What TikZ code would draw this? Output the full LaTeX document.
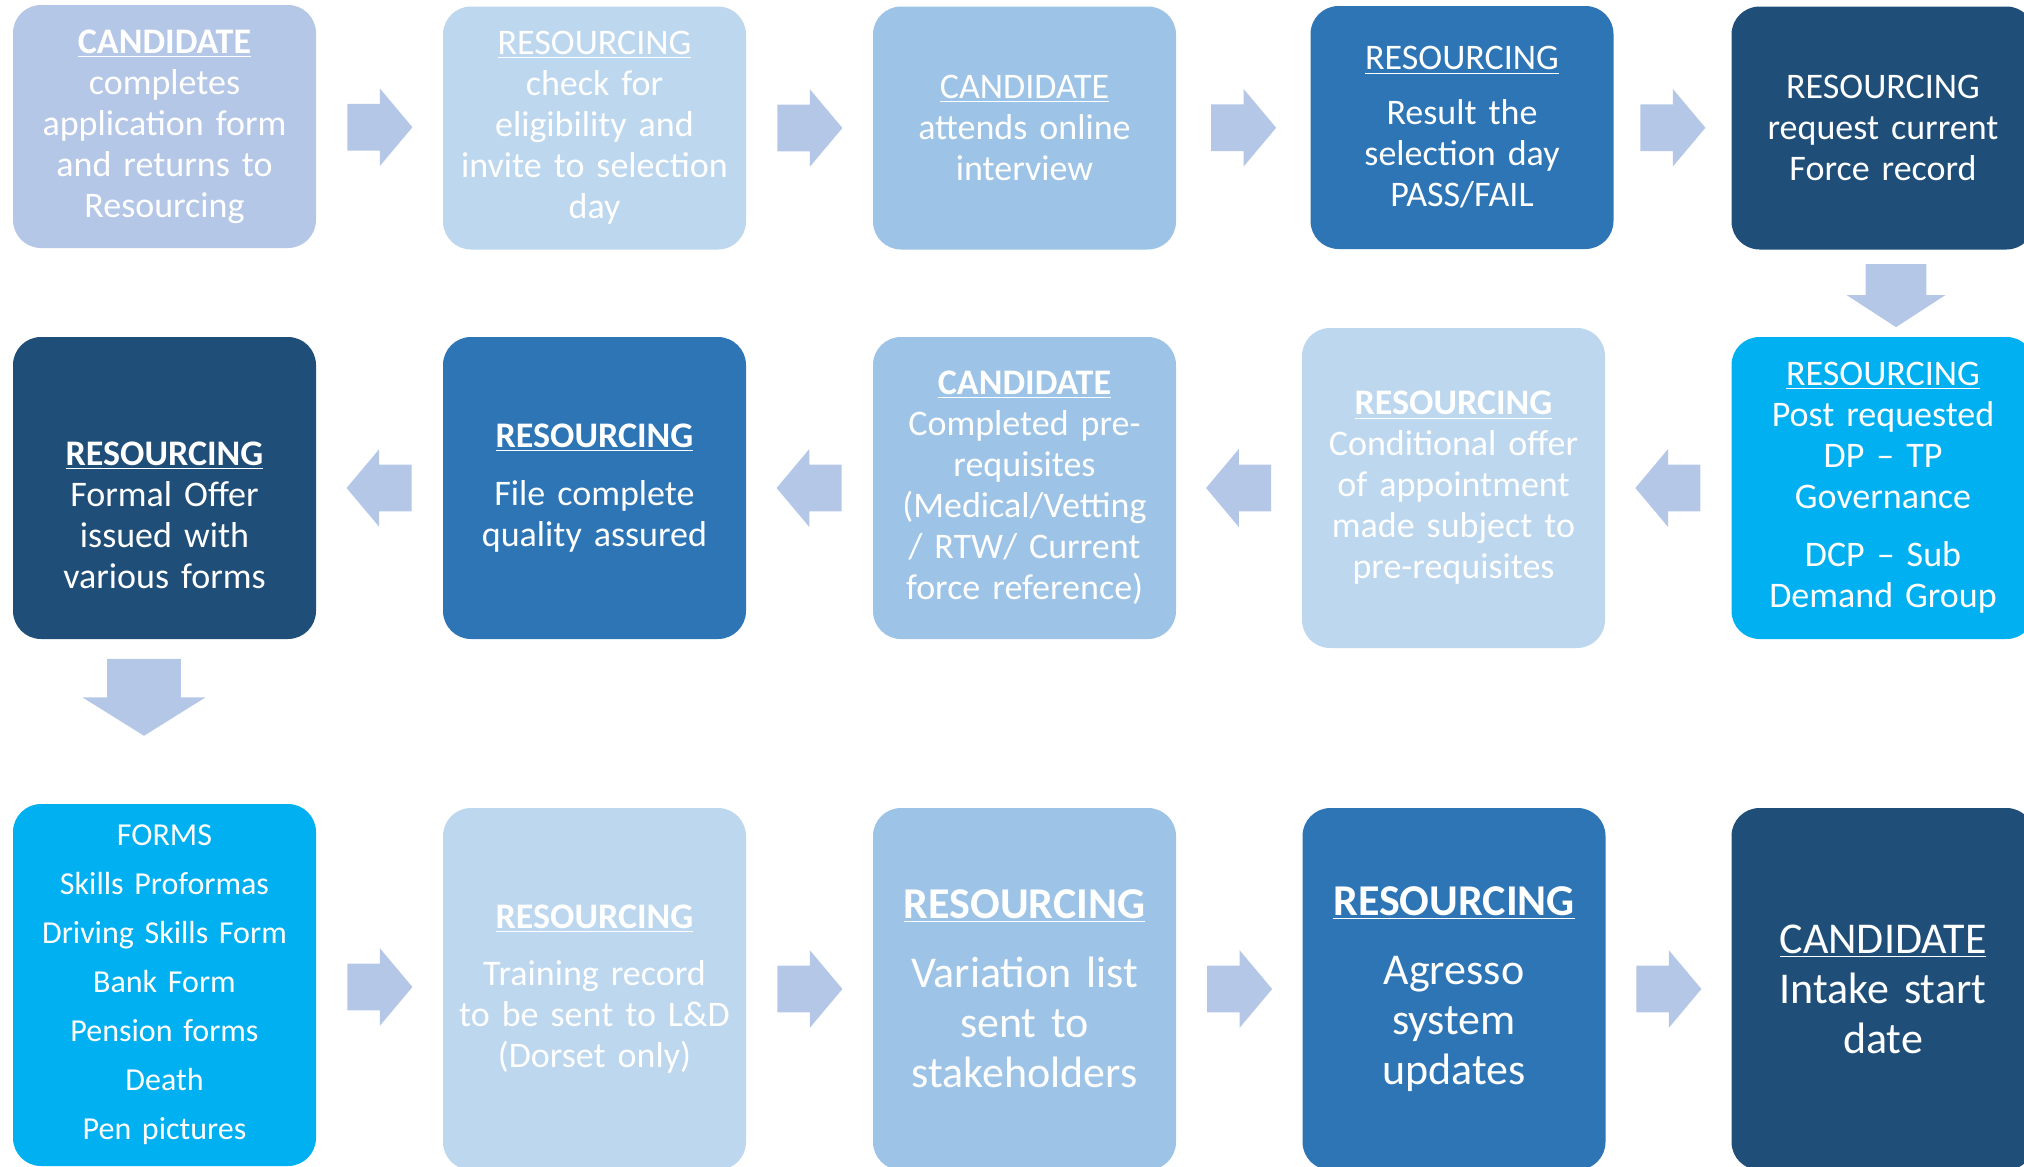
\documentclass[tikz,border=0pt]{standalone}
\usepackage{fontspec}
\setmainfont{Carlito}
\usetikzlibrary{calc, shapes.arrows}

\definecolor{paleblue}{HTML}{B4C7E7}
\definecolor{lightblue}{HTML}{BDD7EE}
\definecolor{midblue}{HTML}{9DC3E6}
\definecolor{darkblue}{HTML}{2E75B6}
\definecolor{navyblue}{HTML}{1F4E79}
\definecolor{brightblue}{HTML}{00B0F0}

\newcommand{\headb}[1]{\underline{\textbf{#1}}}
\newcommand{\headr}[1]{\underline{#1}}

\begin{document}
\begin{tikzpicture}[x=0.5pt, y=-0.5pt,
    stepbox/.style={rounded corners=14pt, minimum width=151.5pt, inner sep=0pt, text=white, align=center, text width=150pt, font=\fontsize{18}{20.5}\selectfont},
    toprow/.style={stepbox, minimum height=121.5pt},
    midrow/.style={stepbox, minimum height=151pt},
    lowrow/.style={stepbox, minimum height=181pt},
    bigtext/.style={font=\fontsize{22}{25}\selectfont},
    blockarrow/.style={single arrow, anchor=tail, fill=paleblue, inner xsep=0pt, inner ysep=11.5pt, minimum height=32.5pt, single arrow head extend=7.75pt, single arrow tip angle=100, single arrow head indent=0pt},
    backarrow/.style={blockarrow, rotate=180},
    downarrow/.style={blockarrow, rotate=-90}
]
    \useasboundingbox (0,0) rectangle (2024,1167);

    % Top row, left to right
    \node[toprow, fill=paleblue] (apply) at (164.5,126.5) {\headb{CANDIDATE}\\completes\\application form\\and returns to\\Resourcing};
    \node[toprow, fill=lightblue] (check) at (594.5,128) {\headr{RESOURCING}\\check for\\eligibility and\\invite to selection\\day};
    \node[toprow, fill=midblue] (interview) at (1024.5,128) {\headr{CANDIDATE}\\attends online\\interview};
    \node[toprow, fill=darkblue] (result) at (1462,127.5) {\headr{RESOURCING}\\[7pt]Result the\\selection day\\PASS/FAIL};
    \node[toprow, fill=navyblue] (record) at (1883,128) {RESOURCING\\request current\\Force record};

    % Middle row, right to left
    \node[midrow, fill=brightblue] (post) at (1883,488) {\headr{RESOURCING}\\Post requested\\DP -- TP\\Governance\\[8.5pt]DCP -- Sub\\Demand Group};
    \node[midrow, fill=lightblue, minimum height=160pt] (condoffer) at (1453.5,488) {\headb{RESOURCING}\\Conditional offer\\of appointment\\made subject to\\pre-requisites};
    \node[midrow, fill=midblue] (prereq) at (1024.5,488) {\headb{CANDIDATE}\\Completed pre-\\requisites\\(Medical/Vetting\\/ RTW/ Current\\force reference)};
    \node[midrow, fill=darkblue] (filedone) at (594.5,488) {\headb{RESOURCING}\\[8.5pt]File complete\\quality assured};
    \node[midrow, fill=navyblue] (offer) at (164.5,488) {\mbox{}\\[18.5pt]\headb{RESOURCING}\\Formal Offer\\issued with\\various forms};

    % Bottom row, left to right
    \node[lowrow, fill=brightblue, font=\fontsize{16}{24.5}\selectfont] (forms) at (164.5,985) {FORMS\\Skills Proformas\\Driving Skills Form\\Bank Form\\Pension forms\\Death\\Pen pictures};
    \node[lowrow, fill=lightblue] (training) at (594.5,989) {\headb{RESOURCING}\\[8pt]Training record\\to be sent to L\&D\\(Dorset only)};
    \node[lowrow, fill=midblue, bigtext] (variation) at (1024.5,989) {\headb{RESOURCING}\\[9.5pt]Variation list\\sent to\\stakeholders};
    \node[lowrow, fill=darkblue, bigtext] (agresso) at (1454,989) {\headb{RESOURCING}\\[9.5pt]Agresso\\system\\updates};
    \node[lowrow, fill=navyblue, bigtext] (intake) at (1883,989) {\headr{CANDIDATE}\\Intake start\\date};

    % Block arrows between the steps (placed by their tails)
    \node[blockarrow] (a1) at ($(apply.east)!0.5!(check.west)+(-32.5,0)$) {};
    \node[blockarrow] (a2) at ($(check.east)!0.5!(interview.west)+(-32.5,0)$) {};
    \node[blockarrow] (a3) at ($(interview.east)!0.5!(result.west)+(-32.5,0)$) {};
    \node[blockarrow] (a4) at ($(result.east)!0.5!(record.west)+(-32.5,0)$) {};
    \node[downarrow, inner ysep=15pt, minimum height=31.5pt, single arrow head extend=9.5pt, single arrow tip angle=114] (a5) at ($(record.south)!0.5!(post.north)+(13,-29.5)$) {};
    \node[backarrow] (a6) at ($(post.west)!0.5!(condoffer.east)+(32.5,0)$) {};
    \node[backarrow] (a7) at ($(condoffer.west)!0.5!(prereq.east)+(32.5,0)$) {};
    \node[backarrow] (a8) at ($(prereq.west)!0.5!(filedone.east)+(32.5,0)$) {};
    \node[backarrow] (a9) at ($(filedone.west)!0.5!(offer.east)+(32.5,0)$) {};
    \node[downarrow, inner ysep=18.25pt, minimum height=38.5pt, single arrow head extend=12.25pt, single arrow tip angle=116] (a10) at ($(offer.south)!0.35!(forms.north)+(-20.5,-38.5)$) {};
    \node[blockarrow] (a11) at ($(forms.east)!0.5!(training.west)+(-32.5,0)$) {};
    \node[blockarrow] (a12) at ($(training.east)!0.5!(variation.west)+(-32.5,0)$) {};
    \node[blockarrow] (a13) at ($(variation.east)!0.5!(agresso.west)+(-32.5,0)$) {};
    \node[blockarrow] (a14) at ($(agresso.east)!0.5!(intake.west)+(-32.5,0)$) {};
\end{tikzpicture}
\end{document}
